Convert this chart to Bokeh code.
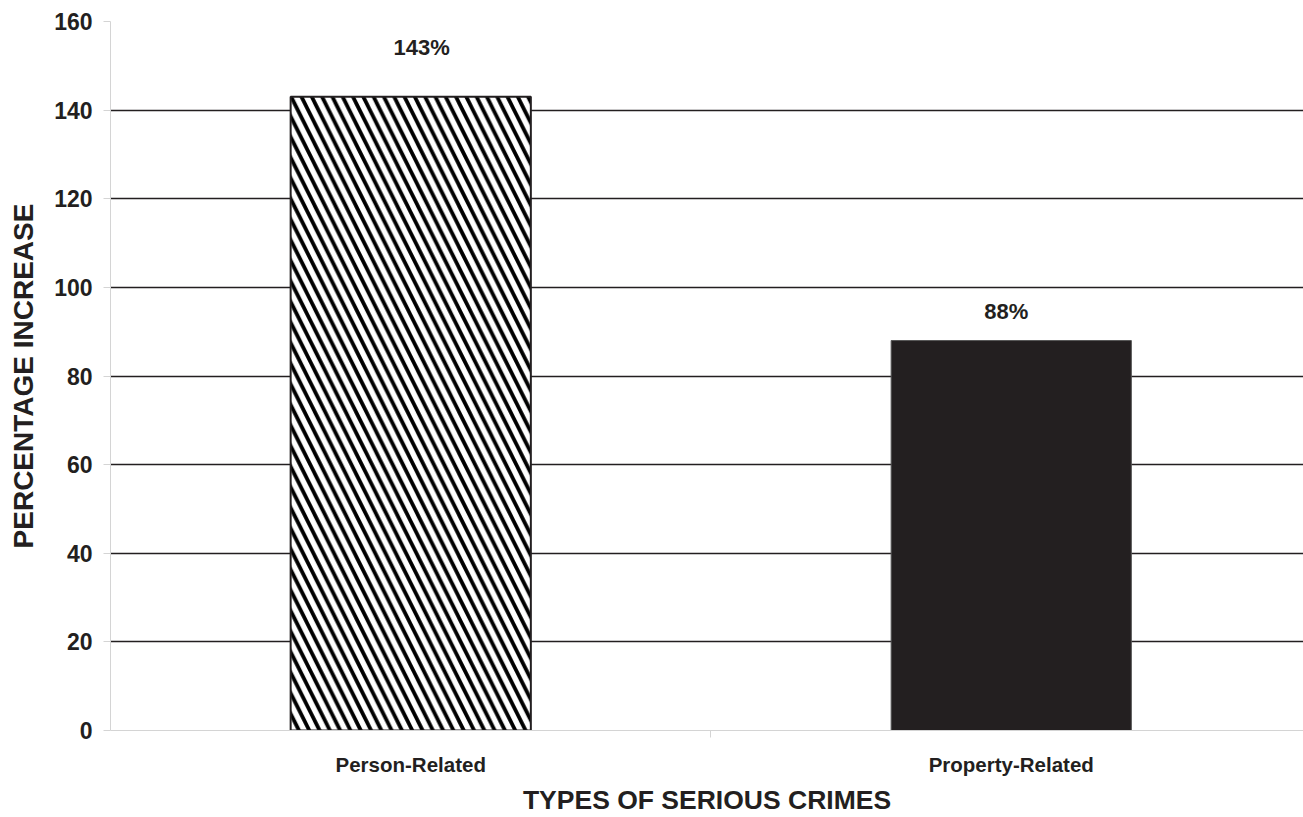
from bokeh.plotting import figure
from bokeh.models import ColumnDataSource, Range1d, FixedTicker
from bokeh.core.properties import value
from bokeh.embed import file_html
from bokeh.resources import INLINE

categories = ["Person-Related", "Property-Related"]
values = [143, 88]
value_labels = ["143%", "88%"]
y_ticks = [0, 20, 40, 60, 80, 100, 120, 140, 160]
x_title = "TYPES OF SERIOUS CRIMES"
y_title = "PERCENTAGE INCREASE"

INK = "#231f20"
FONT = "Liberation Sans"

xpos = [i + 0.5 for i in range(len(categories))]

p = figure(width=1303, height=817, output_backend="svg", toolbar_location=None,
           x_range=Range1d(0, 1.9867), y_range=Range1d(0, 160),
           min_border_left=110, min_border_right=0, min_border_top=21, min_border_bottom=87,
           background_fill_color="white", border_fill_color="white")
p.outline_line_color = None

# bars
p.vbar(x=[xpos[0]], top=[values[0]], width=0.40, bottom=0,
       fill_color="white", line_color=INK, line_width=2,
       hatch_pattern="left_diagonal_line", hatch_color="black", hatch_scale=20.6, hatch_weight=3.8)
p.vbar(x=[xpos[1]], top=[values[1]], width=0.40, bottom=0,
       fill_color=INK, line_color="#555555", line_width=1)

# value labels
src = ColumnDataSource(dict(x=xpos, y=values, t=value_labels, xo=[11, -5], yo=[-37, -17]))
p.text(x="x", y="y", text="t", x_offset="xo", y_offset="yo", source=src,
       text_align="center", text_baseline="bottom", text_font_size="22px",
       text_font_style="bold", text_color=INK, text_font=value(FONT))

# grid
p.xgrid.visible = False
p.ygrid.ticker = FixedTicker(ticks=y_ticks[1:])
p.ygrid.grid_line_color = INK
p.ygrid.grid_line_width = 1.5
p.ygrid.level = "underlay"

# y axis
p.yaxis.ticker = FixedTicker(ticks=y_ticks)
p.yaxis.axis_line_color = "#d4d4d4"
p.yaxis.major_tick_line_color = "#d4d4d4"
p.yaxis.major_tick_out = 7
p.yaxis.major_tick_in = 0
p.yaxis.minor_tick_line_color = None
p.yaxis.major_label_standoff = 11
p.yaxis.major_label_text_font = FONT
p.yaxis.major_label_text_font_style = "bold"
p.yaxis.major_label_text_font_size = "23px"
p.yaxis.major_label_text_color = INK
p.yaxis.axis_label = y_title
p.yaxis.axis_label_text_font = FONT
p.yaxis.axis_label_text_font_style = "bold"
p.yaxis.axis_label_text_font_size = "28px"
p.yaxis.axis_label_text_color = INK
p.yaxis.axis_label_standoff = 12

# x axis
p.xaxis.ticker = FixedTicker(ticks=xpos, minor_ticks=[1.0])
p.xaxis.major_label_overrides = {x: c for x, c in zip(xpos, categories)}
p.xaxis.axis_line_color = "#d4d4d4"
p.xaxis.major_tick_line_color = None
p.xaxis.major_tick_out = 0
p.xaxis.major_tick_in = 0
p.xaxis.minor_tick_line_color = "#d4d4d4"
p.xaxis.minor_tick_out = 7
p.xaxis.minor_tick_in = 0
p.xaxis.major_label_standoff = 15
p.xaxis.major_label_text_font = FONT
p.xaxis.major_label_text_font_style = "bold"
p.xaxis.major_label_text_font_size = "20.5px"
p.xaxis.major_label_text_color = INK
p.xaxis.axis_label = x_title
p.xaxis.axis_label_text_font = FONT
p.xaxis.axis_label_text_font_style = "bold"
p.xaxis.axis_label_text_font_size = "26.5px"
p.xaxis.axis_label_text_color = INK
p.xaxis.axis_label_standoff = 6

open("out.html", "w").write(file_html(p, INLINE))
